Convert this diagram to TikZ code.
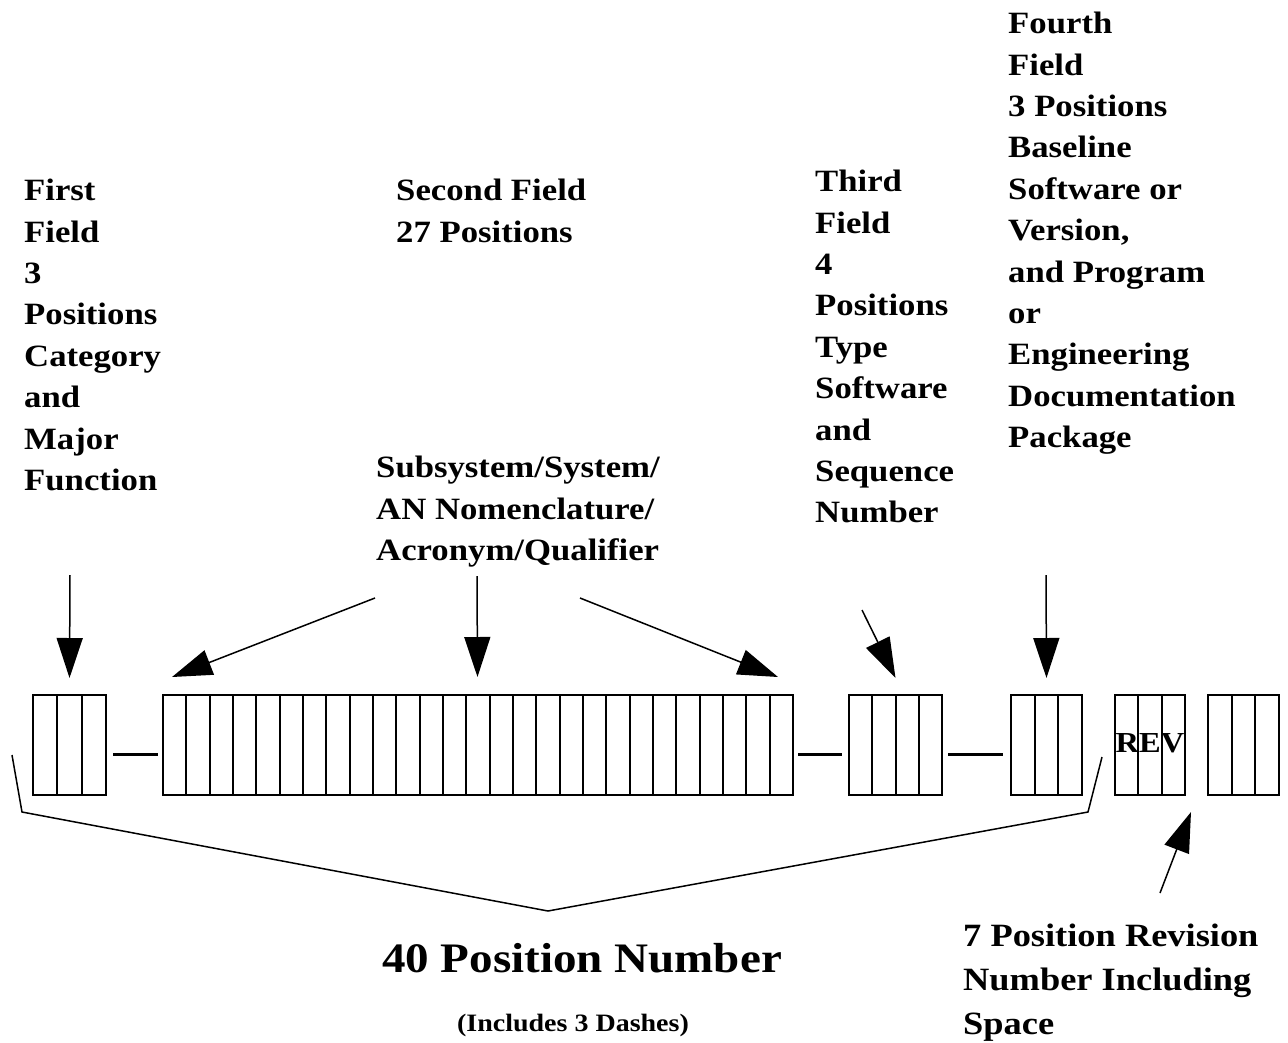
\documentclass[tikz,border=0pt]{standalone}
\usepackage{fontspec}
\setmainfont{Liberation Serif}[FakeStretch=1.12]
\usetikzlibrary{arrows.meta}
\begin{document}
\begin{tikzpicture}[x=1pt,y=-1pt,
  lab/.style={font=\bfseries\fontsize{31}{41.4}\selectfont, align=left, inner sep=0pt, anchor=north west},
  grp/.style={draw, line width=2.4pt, minimum height=100pt, inner sep=0pt, outer sep=0pt, anchor=north west},
  sepline/.style={line width=2pt},
  arr/.style={line width=1.5pt, -{Triangle[length=40pt,width=26pt]}},
  dashln/.style={line width=3pt},
  braceln/.style={line width=1.5pt, line join=miter}]
\useasboundingbox (0,0) rectangle (1288,1042);

% groups of boxes
\node[grp, minimum width=73pt]  (g1) at (33,695) {};
\node[grp, minimum width=630pt] (g2) at (163,695) {};
\node[grp, minimum width=93pt]  (g3) at (849,695) {};
\node[grp, minimum width=71pt]  (g4) at (1011,695) {};
\node[grp, minimum width=70pt]  (g5) at (1115,695) {};
\node[grp, minimum width=71pt]  (g6) at (1208,695) {};

% cell separators
\foreach \i in {1,2}
  \draw[sepline] ([xshift=\i*24.33pt]g1.north west) -- ([xshift=\i*24.33pt]g1.south west);
\foreach \i in {1,...,26}
  \draw[sepline] ([xshift=\i*23.333pt]g2.north west) -- ([xshift=\i*23.333pt]g2.south west);
\foreach \i in {1,2,3}
  \draw[sepline] ([xshift=\i*23.25pt]g3.north west) -- ([xshift=\i*23.25pt]g3.south west);
\foreach \i in {1,2}
  \draw[sepline] ([xshift=\i*23.67pt]g4.north west) -- ([xshift=\i*23.67pt]g4.south west);
\foreach \i in {1,2}
  \draw[sepline] ([xshift=\i*23.33pt]g5.north west) -- ([xshift=\i*23.33pt]g5.south west);
\foreach \i in {1,2}
  \draw[sepline] ([xshift=\i*23.67pt]g6.north west) -- ([xshift=\i*23.67pt]g6.south west);

% dashes between fields
\draw[dashln] ([xshift=7pt,yshift=-9pt]g1.east) -- ([xshift=-5pt,yshift=-9pt]g2.west);
\draw[dashln] ([xshift=5pt,yshift=-9pt]g2.east) -- ([xshift=-7pt,yshift=-9pt]g3.west);
\draw[dashln] ([xshift=6pt,yshift=-9pt]g3.east) -- ([xshift=-8pt,yshift=-9pt]g4.west);

\node[font=\bfseries\fontsize{29}{30}\selectfont, inner sep=0pt] (trev) at (1150,743) {REV};

% labels
\node[lab] (t1) at (24,179) {First\\Field\\3\\Positions\\Category\\and\\Major\\Function};
\node[lab] (t2) at (396,179) {Second Field\\27 Positions};
\node[lab] (t2b) at (376,456) {Subsystem/System/\\AN Nomenclature/\\Acronym/Qualifier};
\node[lab] (t3) at (815,170) {Third\\Field\\4\\Positions\\Type\\Software\\and\\Sequence\\Number};
\node[lab] (t4) at (1008,12) {Fourth\\Field\\3 Positions\\Baseline\\Software or\\Version,\\and Program\\or\\Engineering\\Documentation\\Package};
\node[lab, font=\bfseries\fontsize{32.5}{44}\selectfont] (t7) at (963,924) {7 Position Revision\\Number Including\\Space};
\node[font=\bfseries\fontsize{42}{50}\selectfont, inner sep=0pt] (t40) at (582,958) {40 Position Number};
\node[font=\bfseries\fontsize{25}{30}\selectfont, inner sep=0pt] (tinc) at (573,1025) {(Includes 3 Dashes)};

% arrow tails
\coordinate (a1) at (70,575);
\coordinate (a2l) at (375,598);
\coordinate (a2m) at (477,576);
\coordinate (a2r) at (580,598);
\coordinate (a3) at (862,610);
\coordinate (a4) at (1046,575);
\coordinate (a7) at (1160,893);

\draw[arr] (a1) -- ([yshift=17pt]g1.north);
\draw[arr] (a2l) -- ([xshift=9pt,yshift=18pt]g2.north west);
\draw[arr] (a2m) -- ([xshift=-0.5pt,yshift=18pt]g2.north);
\draw[arr] (a2r) -- ([xshift=-15pt,yshift=18pt]g2.north east);
\draw[arr] (a3) -- ([yshift=17pt]g3.north);
\draw[arr] (a4) -- ([yshift=17pt]g4.north);
\draw[arr] (a7) -- ([xshift=6pt,yshift=-17pt]g5.south east);

% brace of the 40 position number
\coordinate (b1) at (12,755);
\coordinate (b2) at (22,812);
\coordinate (b3) at (548,911);
\coordinate (b4) at (1088,812);
\coordinate (b5) at (1102,757);
\draw[braceln] (b1) -- (b2) -- (b3) -- (b4) -- (b5);
\end{tikzpicture}
\end{document}
